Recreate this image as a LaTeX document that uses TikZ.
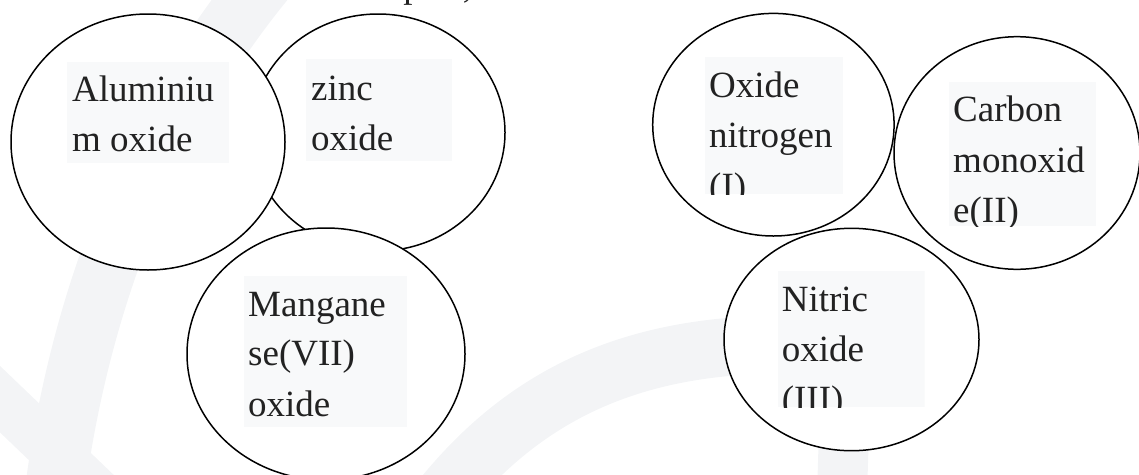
\documentclass[tikz,border=0pt]{standalone}
\usepackage{fontspec}
\setmainfont{Liberation Serif}
\usetikzlibrary{shapes.geometric}
\definecolor{boxgray}{HTML}{F8F9FA}
\definecolor{inkgray}{HTML}{222222}
\definecolor{markgray}{HTML}{F3F4F6}
\tikzset{
  bubble/.style={ellipse, draw=black, line width=1.5pt, fill=white, inner sep=0pt, outer sep=0pt},
  labelbox/.style={fill=boxgray, draw=none},
  line/.style={anchor=base west, inner sep=0pt, text=inkgray,
    font=\fontsize{37}{50}\selectfont},
  watermark/.style={draw=markgray, line cap=butt},
}
\begin{document}
\begin{tikzpicture}[x=1pt, y=-1pt]
\useasboundingbox (0,0) rectangle (1139,474);
\begin{scope}
\clip (0,0) rectangle (1139,474);
% faint logo bands in the background
\draw[watermark, line width=60pt] (265,-20) .. controls (150,120) and (80,300) .. (55,490);
\draw[watermark, line width=48pt] (-20,380) -- (100,495);
\draw[watermark, line width=58pt] (440,500) .. controls (520,400) and (620,350) .. (760,345);
\draw[watermark, line width=50pt] (848,300) -- (842,495);

% heading line running above the top edge
\node[line] (head) at (323,-3) {examples,};

% ----- left group -----
\node[bubble, minimum width=254pt, minimum height=237pt] (zn) at (378,132.5) {};
\fill[labelbox] (306,59) rectangle (451.5,161);
\node[line] (zn1) at (311,100) {zinc};
\node[line] (zn2) at (311,150) {oxide};

\node[bubble, minimum width=274pt, minimum height=256pt] (al) at (148,142) {};
\fill[labelbox] (67,62) rectangle (229,163);
\node[line] (al1) at (72,101.7) {Aluminiu};
\node[line] (al2) at (72,151.7) {m oxide};

\node[bubble, minimum width=278pt, minimum height=252pt] (mn) at (326,354) {};
\fill[labelbox] (243.5,276) rectangle (407,427);
\node[line] (mn1) at (248,316) {Mangane};
\node[line] (mn2) at (248,365) {se(VII)};
\node[line] (mn3) at (248,416) {oxide};

% ----- right group -----
\node[bubble, minimum width=255pt, minimum height=222.4pt] (no) at (851.5,339.5) {};
\begin{scope}
\clip (778,270.7) rectangle (924.5,407.3);
\fill[labelbox] (778,270.7) rectangle (924.5,407.3);
\node[line] (no1) at (781.6,311.7) {Nitric};
\node[line] (no2) at (781.6,361.7) {oxide};
\node[line] (no3) at (781.6,411.7) {(III)};
\end{scope}

\node[bubble, minimum width=241.4pt, minimum height=222.6pt] (ni) at (773.4,124.7) {};
\begin{scope}
\clip (705,56.7) rectangle (843,194);
\fill[labelbox] (705,56.7) rectangle (843,194);
\node[line] (ni1) at (709,97.3) {Oxide};
\node[line] (ni2) at (709,147.7) {nitrogen};
\node[line] (ni3) at (709,198) {(I)};
\end{scope}

\node[bubble, minimum width=246pt, minimum height=232.6pt] (co) at (1017,153) {};
\begin{scope}
\clip (948.5,81.7) rectangle (1096,226);
\fill[labelbox] (948.5,81.7) rectangle (1096,226);
\node[line] (co1) at (953,121.7) {Carbon};
\node[line] (co2) at (953,172.3) {monoxid};
\node[line] (co3) at (953,222) {e(II)};
\end{scope}
\end{scope}
\end{tikzpicture}
\end{document}
